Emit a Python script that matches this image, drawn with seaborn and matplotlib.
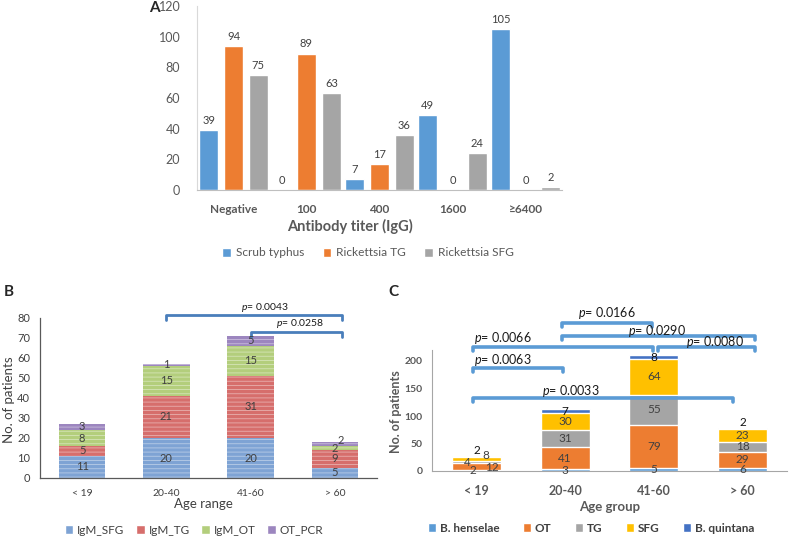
import matplotlib
matplotlib.use("Agg")
import matplotlib.pyplot as plt
import seaborn as sns
import pandas as pd
import numpy as np
from matplotlib.patches import Patch
from matplotlib.colors import to_rgb

# ---------------- data ----------------
titer_cats = ["Negative", "100", "400", "1600", "≥6400"]
series_a = ["Scrub typhus", "Rickettsia TG", "Rickettsia SFG"]
scrub = [39, 0, 7, 49, 105]
rick_tg = [94, 89, 17, 0, 0]
rick_sfg = [75, 63, 36, 24, 2]

age_b = ["< 19", "20-40", "41-60", "> 60"]
series_b = ["IgM_SFG", "IgM_TG", "IgM_OT", "OT_PCR"]
igm_sfg = [11, 20, 20, 5]
igm_tg = [5, 21, 31, 9]
igm_ot = [8, 15, 15, 2]
ot_pcr = [3, 1, 5, 2]

age_c = ["< 19", "20-40", "41-60", "> 60"]
series_c = ["B. henselae", "OT", "TG", "SFG", "B. quintana"]
b_henselae = [2, 3, 5, 6]
ot = [12, 41, 79, 29]
tg = [4, 31, 55, 18]
sfg = [8, 30, 64, 23]
b_quintana = [2, 7, 8, 2]

# p-value annotations: (start cat, end cat, level, text)
pvals_b = [(1.0, 3.08, 81.5, "0.0043"), (2.0, 3.08, 73, "0.0258")]
pvals_c = [(0.96, 1.98, 270, "0.0166"), (0.96, 3.14, 246, "0.0290"),
           (-0.04, 1.99, 226, "0.0066"), (2.05, 3.14, 226, "0.0080"),
           (-0.04, 0.98, 188, "0.0063"), (-0.04, 2.89, 133, "0.0033")]
# text anchor (x in category units, y in data units) for each p-value label
ptext_b = [(2.17, 85.5), (2.59, 77.5)]
ptext_c = [(1.47, 288), (2.03, 255), (0.30, 241), (2.69, 235), (0.30, 201), (1.06, 146)]

# ---------------- style ----------------
sns.set_style("white")
plt.rcParams["font.family"] = ["Lato", "DejaVu Sans"]
plt.rcParams["mathtext.fontset"] = "custom"
plt.rcParams["mathtext.it"] = "Lato:italic"
plt.rcParams["mathtext.rm"] = "Lato"
plt.rcParams["hatch.linewidth"] = 0.6

W, H = 790, 537
fig = plt.figure(figsize=(W / 100, H / 100), dpi=100)


def add_ax(l, t, r, b):
    return fig.add_axes([l / W, 1 - b / H, (r - l) / W, (b - t) / H])


def fx(px):
    return px / W


def fy(py):
    return 1 - py / H


def cat_ticks(ax, n, color, tl=4):
    ax.set_xticks(range(n))
    ax.set_xticks(np.arange(-0.5, n, 1.0), minor=True)
    ax.tick_params(axis="x", which="major", length=0)
    ax.tick_params(axis="x", which="minor", length=tl, color=color, width=0.8)
    ax.set_xlim(-0.5, n - 0.5)


# ================= Panel A =================
colors_a = ["#5B9BD5", "#ED7D31", "#A5A5A5"]
axA = add_ax(197, 6, 562, 190)
dfA = pd.DataFrame({
    "titer": titer_cats * 3,
    "series": np.repeat(series_a, len(titer_cats)),
    "count": scrub + rick_tg + rick_sfg,
})
sns.barplot(data=dfA, x="titer", y="count", hue="series", order=titer_cats,
            hue_order=series_a, palette=colors_a, saturation=1, width=1.02,
            gap=0.24, errorbar=None, legend=False, ax=axA)
for cont in axA.containers:
    axA.bar_label(cont, padding=3, fontsize=8, color="#404040")
axA.set_ylim(0, 120)
axA.set_yticks(range(0, 121, 20))
sns.despine(ax=axA)
axA.spines["left"].set_color("#D9D9D9")
axA.spines["bottom"].set_color("#BFBFBF")
axA.tick_params(axis="y", labelsize=9, labelcolor="#595959", length=3,
                color="#D9D9D9", pad=9)
cat_ticks(axA, len(titer_cats), "#BFBFBF")
axA.tick_params(axis="x", which="major", labelsize=8.5, labelcolor="#595959", pad=10)
for lbl in axA.get_xticklabels():
    lbl.set_fontweight("bold")
axA.set_xlabel("")
axA.set_ylabel("")
fig.text(fx(350), fy(226), "Antibody titer (IgG)", ha="center", va="center",
         fontsize=10.5, fontweight="bold", color="#595959")
fig.text(fx(149), fy(8), "A", ha="left", va="center", fontsize=11, fontweight="bold")
fig.legend([Patch(facecolor=c) for c in colors_a], series_a, loc="center",
           bbox_to_anchor=(fx(368), fy(253)), ncol=3, frameon=False, fontsize=8.6,
           handlelength=0.75, handleheight=0.75, handletextpad=0.4,
           columnspacing=1.5, labelcolor="#595959")


# ---------------- stacked helper ----------------
def stacked(ax, cats, layers, colors, width, hatch=None):
    cum = np.cumsum(np.array(layers, dtype=float), axis=0)
    for i in range(len(layers) - 1, -1, -1):
        n0 = len(ax.patches)
        sns.barplot(x=cats, y=list(cum[i]), order=cats, color=colors[i],
                    saturation=1, width=width, errorbar=None, ax=ax)
        if hatch:
            light = tuple(0.55 * np.array(to_rgb(colors[i])) + 0.45)
            for p in ax.patches[n0:]:
                p.set_hatch(hatch)
                p.set_edgecolor(light)
                p.set_linewidth(0)
    return cum


def seg_labels(ax, cats, layers, cum, offsets, fs, colors):
    for i, vals in enumerate(layers):
        for j, v in enumerate(vals):
            if v == 0:
                continue
            mid = cum[i][j] - v / 2
            dx, dy = offsets.get((i, j), (0, 0))
            ax.annotate(str(v), (j, mid), xytext=(dx * 0.72, -dy * 0.72),
                        textcoords="offset points", ha="center", va="center",
                        fontsize=fs, color=colors[i], annotation_clip=False)


def brackets(ax, pairs, texts, tick, color, lw, fs):
    for (x1, x2, y, t), (tx, ty) in zip(pairs, texts):
        ax.plot([x1, x1, x2, x2], [y - tick, y, y, y - tick], color=color, lw=lw,
                clip_on=False, solid_joinstyle="round", solid_capstyle="round")
        ax.text(tx, ty, r"$\it{p}$= " + t, ha="center", va="center",
                fontsize=fs, color="#1a1a1a", clip_on=False)


# ================= Panel B =================
colors_b = ["#7EA3D4", "#D66E6C", "#B3CE7C", "#9C86BF"]
layers_b = [igm_sfg, igm_tg, igm_ot, ot_pcr]
axB = add_ax(40, 318, 377, 478)
cumB = stacked(axB, age_b, layers_b, colors_b, 0.55, hatch="----")
seg_labels(axB, age_b, layers_b, cumB, {(3, 3): (6, -3)}, 8,
           ["#404040"] * 4)
axB.set_ylim(0, 80)
axB.set_yticks(range(0, 81, 10))
sns.despine(ax=axB)
for s in ("left", "bottom"):
    axB.spines[s].set_color("#595959")
    axB.spines[s].set_linewidth(0.9)
axB.tick_params(axis="y", labelsize=8, labelcolor="#404040", length=4,
                color="#595959", pad=3)
cat_ticks(axB, len(age_b), "#595959")
axB.tick_params(axis="x", which="major", labelsize=7.5, labelcolor="#404040", pad=8)
axB.set_xlabel("")
axB.set_ylabel("")
brackets(axB, pvals_b, ptext_b, 2.5, "#4A7EBB", 2.0, 7.5)
fig.text(fx(9), fy(400), "No. of patients", rotation=90, ha="center", va="center",
         fontsize=9.5, color="#404040")
fig.text(fx(203), fy(504), "Age range", ha="center", va="center",
         fontsize=9.5, color="#404040")
fig.text(fx(4), fy(292), "B", ha="left", va="center", fontsize=11, fontweight="bold")
fig.legend([Patch(facecolor=c) for c in colors_b], series_b, loc="center",
           bbox_to_anchor=(fx(194), fy(530)), ncol=4, frameon=False, fontsize=8.5,
           handlelength=0.75, handleheight=0.75, handletextpad=0.3,
           columnspacing=1.0, labelcolor="#404040")

# ================= Panel C =================
colors_c = ["#5B9BD5", "#ED7D31", "#A5A5A5", "#FFC000", "#4472C4"]
layers_c = [b_henselae, ot, tg, sfg, b_quintana]
axC = add_ax(432, 350, 787, 471)
cumC = stacked(axC, age_c, layers_c, colors_c, 0.55)
offs_c = {(0, 0): (-4, 0), (1, 0): (15, 1), (2, 0): (-9, 0), (3, 0): (9, -3),
          (4, 0): (0, -6), (4, 3): (0, -6)}
seg_labels(axC, age_c, layers_c, cumC, offs_c, 8.5,
           ["#404040", "#404040", "#404040", "#404040", "#111111"])
axC.set_ylim(0, 220)
axC.set_yticks(range(0, 201, 50))
sns.despine(ax=axC)
for s in ("left", "bottom"):
    axC.spines[s].set_color("#A6A6A6")
axC.tick_params(axis="y", labelsize=7.5, labelcolor="#595959", length=4,
                color="#A6A6A6", pad=3)
for lbl in axC.get_yticklabels():
    lbl.set_fontweight("bold")
cat_ticks(axC, len(age_c), "#A6A6A6")
axC.tick_params(axis="x", which="major", labelsize=9, labelcolor="#595959", pad=10)
for lbl in axC.get_xticklabels():
    lbl.set_fontweight("bold")
axC.set_xlabel("")
axC.set_ylabel("")
brackets(axC, pvals_c, ptext_c, 8, "#5B9BD5", 2.6, 9)
fig.text(fx(396), fy(412), "No. of patients", rotation=90, ha="center", va="center",
         fontsize=9, fontweight="bold", color="#595959")
fig.text(fx(610), fy(507), "Age group", ha="center", va="center",
         fontsize=9.5, fontweight="bold", color="#595959")
fig.text(fx(388), fy(292), "C", ha="left", va="center", fontsize=11, fontweight="bold")
leg = fig.legend([Patch(facecolor=c) for c in colors_c], series_c, loc="center",
                 bbox_to_anchor=(fx(591), fy(528)), ncol=5, frameon=False,
                 fontsize=8.5, handlelength=0.7, handleheight=0.7,
                 handletextpad=0.3, columnspacing=2.0, labelcolor="#404040")
for t in leg.get_texts():
    t.set_fontweight("bold")

fig.savefig("out.png", dpi=100)
